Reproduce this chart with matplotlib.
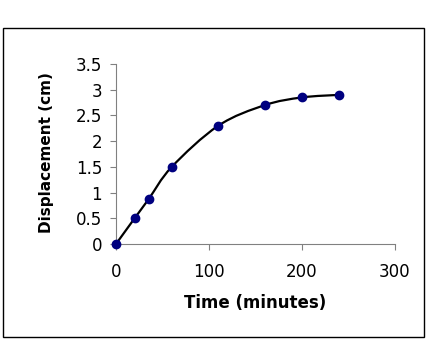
import numpy as np
import matplotlib
matplotlib.use("Agg")
import matplotlib.pyplot as plt
from matplotlib.path import Path
from matplotlib.patches import PathPatch, Rectangle

time_min = [0, 20, 35, 60, 110, 160, 200, 240]
displacement = [0, 0.5, 0.87, 1.5, 2.3, 2.7, 2.85, 2.9]
x_ticks = [0, 100, 200, 300]
y_ticks = [0, 0.5, 1, 1.5, 2, 2.5, 3, 3.5]


def smooth_path(xs, ys):
    # Excel-style smoothed line: cubic Bezier segments with Catmull-Rom control points
    pts = np.column_stack([xs, ys]).astype(float)
    n = len(pts)
    verts = [pts[0]]
    codes = [Path.MOVETO]
    for i in range(n - 1):
        p0 = pts[i - 1] if i > 0 else pts[i]
        p1 = pts[i]
        p2 = pts[i + 1]
        p3 = pts[i + 2] if i + 2 < n else pts[i + 1]
        c1 = p1 + (p2 - p0) / 6.0
        c2 = p2 - (p3 - p1) / 6.0
        verts += [c1, c2, p2]
        codes += [Path.CURVE4] * 3
    return Path(verts, codes)


fig = plt.figure(figsize=(4.26, 3.44), dpi=100)
fig.patches.append(Rectangle((2.5 / 426, 7 / 344), 421.5 / 426, 309 / 344,
                             transform=fig.transFigure, fill=False,
                             edgecolor="black", linewidth=1))

ax = fig.add_axes([116 / 426, 100 / 344, 279 / 426, 180 / 344])
ax.add_patch(PathPatch(smooth_path(time_min, displacement), fill=False,
                       edgecolor="black", linewidth=1.6, zorder=2))
ax.plot(time_min, displacement, linestyle="none", marker="o",
        markersize=6, color="#000080", zorder=3, clip_on=False)

ax.set_xlim(0, 300)
ax.set_ylim(0, 3.5)
ax.set_xticks(x_ticks)
ax.set_yticks(y_ticks)
ax.set_xticklabels([str(v) for v in x_ticks])
ax.set_yticklabels(["0", "0.5", "1", "1.5", "2", "2.5", "3", "3.5"])
for s in ["top", "right"]:
    ax.spines[s].set_visible(False)
for s in ["left", "bottom"]:
    ax.spines[s].set_color("#808080")
ax.tick_params(direction="out", length=4, color="#808080", labelsize=12)
ax.tick_params(axis="y", pad=6)
ax.tick_params(axis="x", pad=10)
ax.set_xlabel("Time (minutes)", fontsize=12, fontweight="bold")
ax.set_ylabel("Displacement (cm)", fontsize=11, fontweight="bold")
ax.xaxis.set_label_coords(0.5, -50 / 180)
ax.yaxis.set_label_coords(-62 / 279, 0.51)

fig.savefig("out.png", dpi=100)
